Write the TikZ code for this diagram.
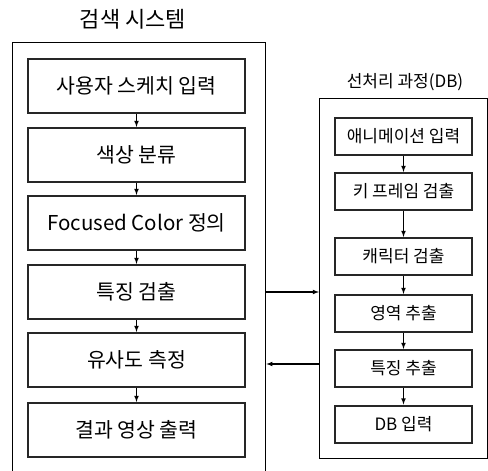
\documentclass[tikz,border=0pt]{standalone}
\usepackage{fontspec}
\setmainfont{Noto Sans CJK KR}
\usepackage{tikz}
\usetikzlibrary{positioning}
\usetikzlibrary{arrows,shapes}
\usetikzlibrary{calc}
\tikzstyle{stage}=[rectangle,draw=black!85,line width=2pt,fill=white,minimum width=217pt,minimum height=54pt,inner sep=0pt,font=\fontsize{20.5}{24}\selectfont]
\tikzstyle{smallstage}=[rectangle,draw=black!85,line width=2pt,fill=white,minimum width=137pt,minimum height=37pt,inner sep=0pt,font=\fontsize{17}{20}\selectfont]
\tikzstyle{frame}=[rectangle,draw,line width=1.3pt,inner sep=0pt]
\tikzstyle{edge} = [draw,line width=1.1pt,-latex]
\tikzstyle{title} = [font=\fontsize{22}{26}\selectfont]

\begin{document}
\begin{tikzpicture}[x=1pt,y=-1pt]

  \useasboundingbox (0,0) rectangle (488,471);

  % outer frames
  \node[frame, minimum width=253pt, minimum height=450pt, anchor=north west] (sys) at (12,42) {};
  \node[frame, minimum width=168pt, minimum height=360pt, anchor=north west] (pre) at (319,98) {};

  \node[title] (systitle) at (133,19) {검색 시스템};
  \node[title, font=\fontsize{17}{20}\selectfont] (pretitle) at (405,82) {선처리 과정(DB)};

   \foreach \y/\name/\label in {86/L1/사용자 스케치 입력, 155/L2/색상 분류, 223/L3/Focused Color 정의,
                               292/L4/특징 검출, 360/L5/유사도 측정, 430/L6/결과 영상 출력}
          \node[stage] (\name) at (136.5,\y) {\label};

   \foreach \y/\name/\label in {136/R1/애니메이션 입력, 191.5/R2/키 프레임 검출, 256.5/R3/캐릭터 검출,
                               313.5/R4/영역 추출, 368.5/R5/특징 추출, 424/R6/DB 입력}
          \node[smallstage] (\name) at (403.5,\y) {\label};

  \foreach \source/ \dest in {L1/L2, L2/L3, L3/L4, L4/L5, L5/L6}
         \path[edge] (\source) -- (\dest);

  \foreach \source/ \dest in {R1/R2, R2/R3, R3/R4, R4/R5, R5/R6}
         \path[edge] (\source) -- (\dest);

  % exchange between the two frames
  \path[edge] (sys.east |- L4) -- (pre.west |- L4);
  \path[edge] ([yshift=-4pt]pre.west |- L5) -- ([yshift=-4pt]sys.east |- L5);

\end{tikzpicture}
\end{document}
